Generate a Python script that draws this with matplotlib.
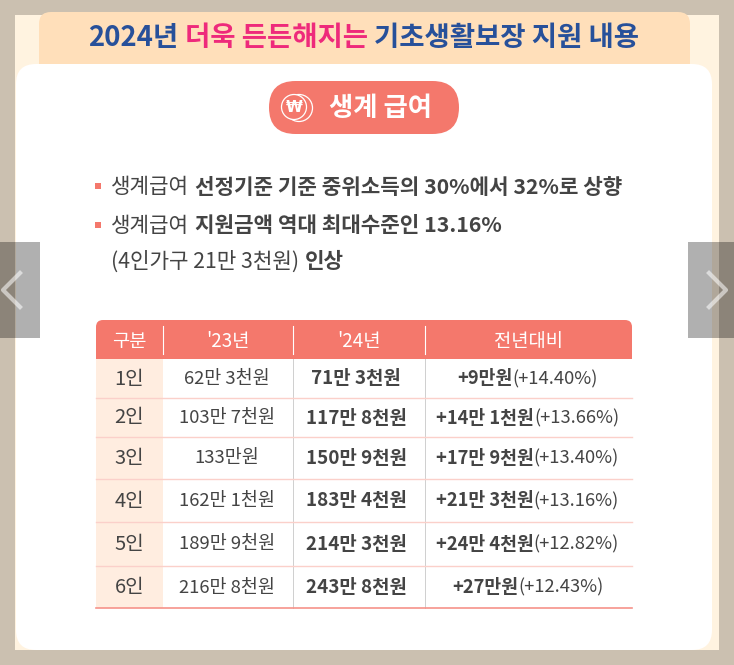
import matplotlib
matplotlib.use("Agg")
import matplotlib.pyplot as plt
from matplotlib.patches import FancyBboxPatch, Rectangle, Circle

plt.rcParams['font.family'] = ['Noto Sans CJK KR', 'DejaVu Sans']

headers = ['구분', "'23년", "'24년", '전년대비']
household = ['1인', '2인', '3인', '4인', '5인', '6인']
benefit_23 = ['62만 3천원', '103만 7천원', '133만원', '162만 1천원', '189만 9천원', '216만 8천원']
benefit_24 = ['71만 3천원', '117만 8천원', '150만 9천원', '183만 4천원', '214만 3천원', '243만 8천원']
diff_amount = ['+9만원', '+14만 1천원', '+17만 9천원', '+21만 3천원', '+24만 4천원', '+27만원']
diff_pct = ['(+14.40%)', '(+13.66%)', '(+13.40%)', '(+13.16%)', '(+12.82%)', '(+12.43%)']

W, H = 734, 665
fig = plt.figure(figsize=(W/100, H/100), dpi=100, facecolor='#CBC0B0')
ax = fig.add_axes([0, 0, 1, 1])
ax.set_xlim(0, W); ax.set_ylim(H, 0); ax.axis('off')
DARK = '#444444'; CORAL = '#F4786C'; BLUE = '#27509A'; PINK = '#EE2A7B'

def rrect(x0, y0, x1, y1, r, color, z=1, **kw):
    p = FancyBboxPatch((x0+r, y0+r), x1-x0-2*r, y1-y0-2*r,
                       boxstyle=f'round,pad={r},rounding_size={r}', fc=color, ec='none', zorder=z, **kw)
    ax.add_patch(p); return p

def runs(x, y, parts, size, align='left', gap=0.0):
    """parts: (text, weight, color); draws consecutive text runs."""
    r = fig.canvas.get_renderer()
    items = []; total = 0
    for s, w, c in parts:
        t = ax.text(0, y, s.strip(), fontsize=size, fontweight=w, color=c, va='center', ha='left', zorder=6)
        adv = t.get_window_extent(r).width
        if s.endswith(' '):
            adv += gap
        items.append((t, adv)); total += adv
    cx = x - total/2 if align == 'center' else x
    for t, adv in items:
        t.set_x(cx); cx += adv

# page panels
ax.add_patch(Rectangle((15, 15), 704, 635, fc='#FFF3E0', ec='none', zorder=1))
rrect(39, 12, 690, 90, 12, '#FFDFBA', 2)
rrect(16, 64, 712, 650, 20, 'white', 3)

# title
runs(363.5, 38, [('2024년 ', 'bold', BLUE), ('더욱 든든해지는 ', 'bold', PINK),
                 ('기초생활보장 지원 내용', 'bold', BLUE)], 19.8, 'center', gap=6)

# pill
rrect(269, 81, 459, 134, 26.5, CORAL, 4)
ax.add_patch(Circle((299, 108), 13.5, fc='none', ec='white', lw=0.9, zorder=5))
ax.add_patch(Circle((294, 107), 12.5, fc=CORAL, ec='white', lw=0.9, zorder=5))
ax.text(294, 107, '₩', color='white', fontsize=11, fontweight='bold', ha='center', va='center',
        family='DejaVu Sans', zorder=6)
ax.text(380.5, 109, '생계 급여', color='white', fontsize=19, fontweight='bold', ha='center', va='center', zorder=6)

# bullets
for yb in (186, 225):
    ax.add_patch(Rectangle((95, yb-3), 6, 6, fc=CORAL, ec='none', zorder=5))
S = 15.3
runs(111, 187, [('생계급여 ', 'normal', DARK), ('선정기준 기준 중위소득의 30%에서 32%로 상향', 'bold', DARK)], S, gap=6)
runs(111, 226, [('생계급여 ', 'normal', DARK), ('지원금액 역대 최대수준인 13.16%', 'bold', DARK)], S, gap=6)
runs(111, 262, [('(4인가구 21만 3천원) ', 'normal', DARK), ('인상', 'bold', DARK)], S, gap=6)

# table
X = [96, 163, 293, 425, 632]
Y = [359, 398, 437, 479, 522, 566, 608]
rrect(96, 320, 632, 372, 7, CORAL, 4)
ax.add_patch(Rectangle((96, 359), 536, 16, fc='white', ec='none', zorder=4.1))
ax.add_patch(Rectangle((96, 359), 67, 249, fc='#FFEDE0', ec='none', zorder=4.1))
for xs in X[1:4]:
    ax.plot([xs, xs], [326, 354], color='white', lw=0.8, zorder=5)
for xs in X[2:4]:
    ax.plot([xs, xs], [359, 608], color='#CFCFCF', lw=0.7, zorder=4.5)
for yl in Y[1:-1]:
    ax.plot([96, 632], [yl, yl], color='#FBD0CA', lw=1.0, zorder=4.6)
ax.plot([96, 632], [608, 608], color='#F6928A', lw=1.2, zorder=4.6)

mid = [(X[i]+X[i+1])/2 for i in range(4)]
for xc, h in zip(mid, headers):
    ax.text(xc, 341, h, color='white', fontsize=13.5, fontweight='medium', ha='center', va='center', zorder=6)
for i in range(6):
    yc = (Y[i]+Y[i+1])/2 + 0.5
    ax.text(mid[0], yc, household[i], color=DARK, fontsize=14.5, ha='center', va='center', zorder=6)
    ax.text(mid[1]-1, yc, benefit_23[i], color=DARK, fontsize=13.3, ha='center', va='center', zorder=6)
    ax.text(mid[2]-3, yc, benefit_24[i], color=DARK, fontsize=13.6, fontweight='bold', ha='center', va='center', zorder=6)
    runs(mid[3]-1, yc, [(diff_amount[i], 'bold', DARK), (diff_pct[i], 'normal', DARK)], 13.2, 'center')

# slider arrows overlay
for x0, x1 in ((0, 40), (688, 734)):
    ax.add_patch(Rectangle((x0, 242), x1-x0, 96, fc='black', alpha=0.31, ec='none', zorder=8))
ax.plot([20, 3, 20], [273, 290, 307], color='white', alpha=0.55, lw=3, zorder=9)
ax.plot([709, 726, 709], [273, 290, 307], color='white', alpha=0.55, lw=3, zorder=9)

fig.savefig('out.png', dpi=100, facecolor=fig.get_facecolor())
